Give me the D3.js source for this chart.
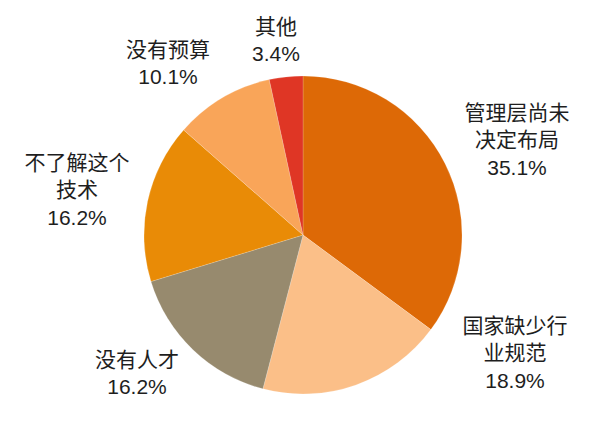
<!DOCTYPE html>
<html>
<head>
<meta charset="utf-8">
<script src="https://cdn.jsdelivr.net/npm/d3@7"></script>
<style>
  body { margin: 0; background: #fff; }
  svg { display: block; }
  text { font-family: "Liberation Sans", Arial, "Noto Sans CJK SC", sans-serif; fill: #1e1e1e; }
</style>
</head>
<body>
<svg width="604" height="428"></svg>
<script>
const categories = ["管理层尚未决定布局", "国家缺少行业规范", "没有人才", "不了解这个技术", "没有预算", "其他"];
const values = [35.1, 18.9, 16.2, 16.2, 10.1, 3.4];
const labelLines = [["管理层尚未", "决定布局"], ["国家缺少行", "业规范"], ["没有人才"], ["不了解这个", "技术"], ["没有预算"], ["其他"]];
const colors = ["#dd6906", "#fbbf88", "#978a6e", "#e98b06", "#f9a559", "#df3625"];

// where excel dropped each label, relative to the pie centre
const labelOffset = [[214, -95], [212, 118], [-166, 138], [-226, -45], [-135, -172], [-27, -195]];

const svg = d3.select("svg");
const cx = 303, cy = 235, r = 159;

const pie = d3.pie().sort(null).value(d => d);
const arc = d3.arc().innerRadius(0).outerRadius(r);
const arcs = pie(values);

const g = svg.append("g").attr("transform", `translate(${cx},${cy})`);

g.selectAll("path")
  .data(arcs)
  .enter()
  .append("path")
  .attr("d", arc)
  .attr("fill", (d, i) => colors[i])
  .attr("stroke", "#fff")
  .attr("stroke-width", 0.5)
  .attr("stroke-opacity", 0.35);

const lh = 27.5;
const labels = g.selectAll(".lbl")
  .data(arcs)
  .enter()
  .append("text")
  .attr("class", "lbl")
  .attr("text-anchor", "middle")
  .attr("font-size", 21)
  .attr("transform", (d, i) => `translate(${labelOffset[i][0]},${labelOffset[i][1]})`);

labels.each(function(d, i) {
  const t = d3.select(this);
  const lines = labelLines[i].concat([values[i].toFixed(1) + "%"]);
  const top = -(lines.length - 1) * lh / 2;
  lines.forEach((s, k) => {
    t.append("tspan")
      .attr("x", 0)
      .attr("y", top + k * lh)
      .attr("dy", "0.35em")
      .text(s);
  });
});
</script>
</body>
</html>
